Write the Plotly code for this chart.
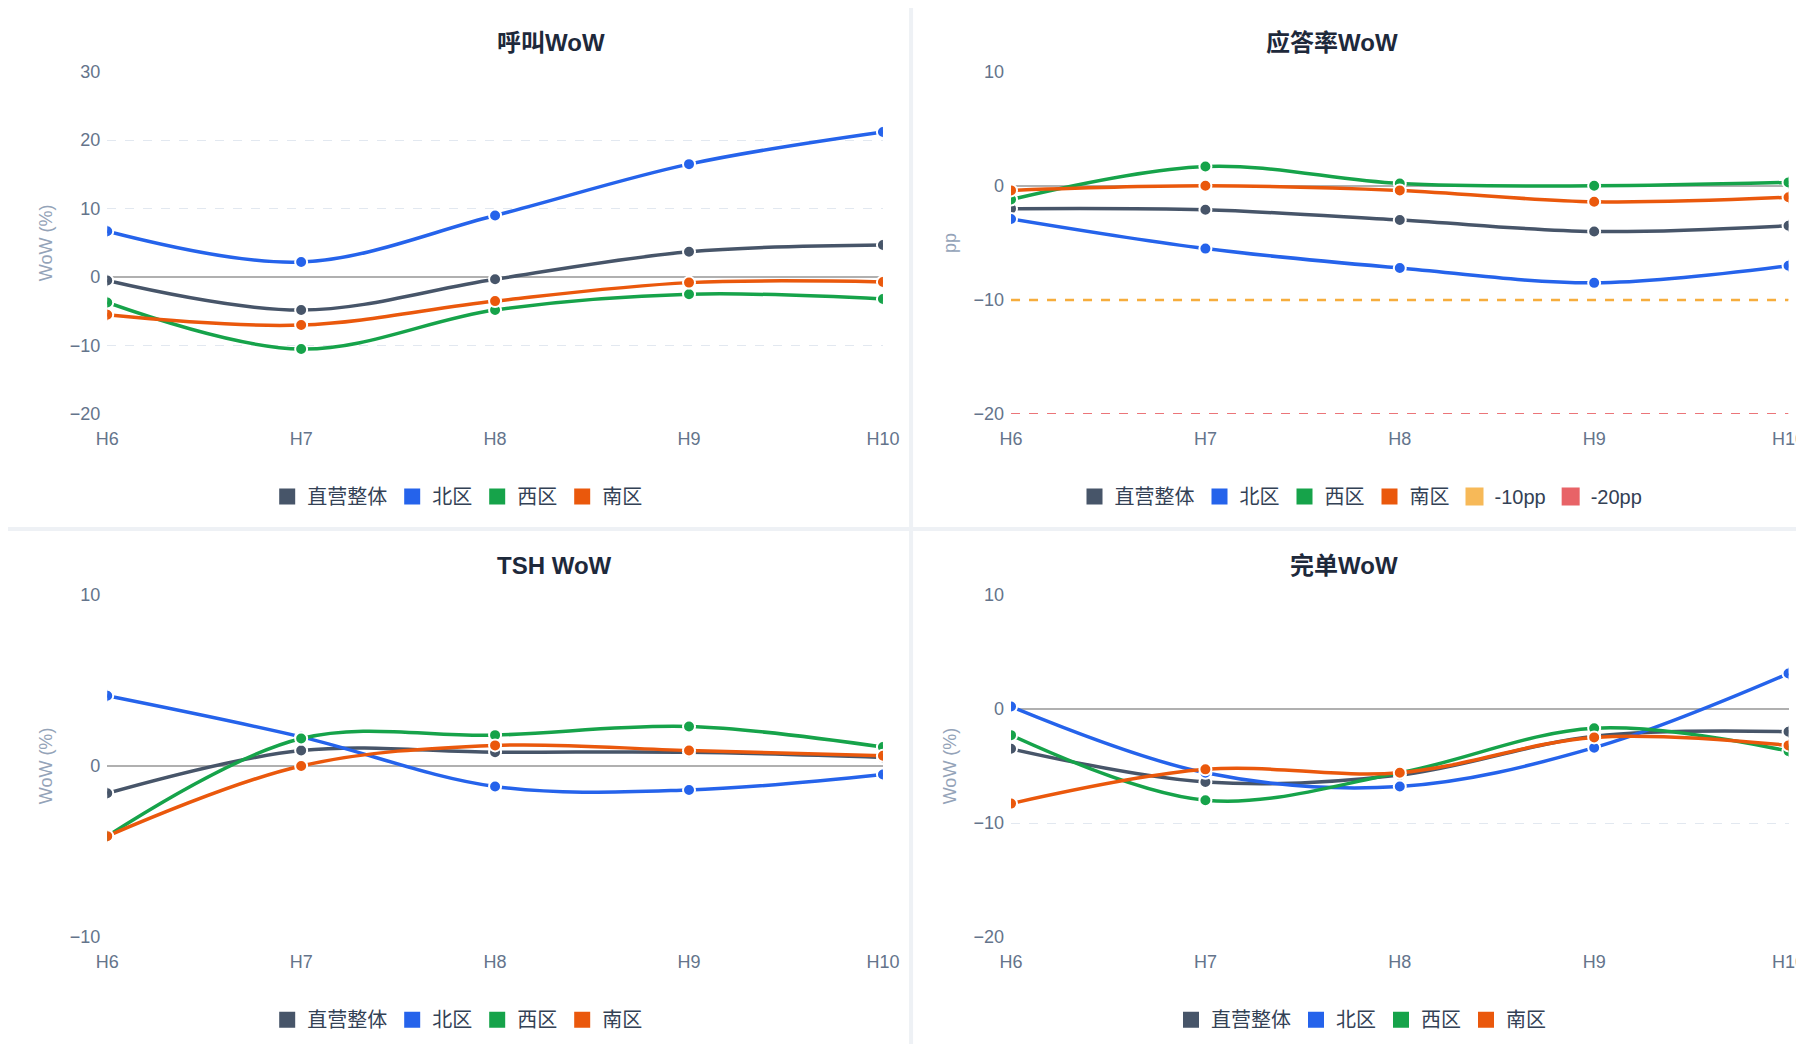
import plotly.graph_objects as go
from plotly.subplots import make_subplots

hours = ['H6', 'H7', 'H8', 'H9', 'H10']
regions = ['直营整体', '北区', '西区', '南区']
colors = {'直营整体': '#475569', '北区': '#2563eb', '西区': '#16a34a', '南区': '#ea580c'}

# 呼叫WoW
call_wow = {
    '直营整体': [-0.5, -4.8, -0.3, 3.7, 4.7],
    '北区': [6.7, 2.2, 9.0, 16.5, 21.2],
    '西区': [-3.7, -10.5, -4.8, -2.5, -3.2],
    '南区': [-5.5, -7.0, -3.5, -0.8, -0.7],
}
# 应答率WoW (pp)
answer_wow = {
    '直营整体': [-2.0, -2.1, -3.0, -4.0, -3.5],
    '北区': [-2.9, -5.5, -7.2, -8.5, -7.0],
    '西区': [-1.2, 1.7, 0.2, 0.0, 0.3],
    '南区': [-0.4, 0.0, -0.4, -1.4, -1.0],
}
# TSH WoW
tsh_wow = {
    '直营整体': [-1.6, 0.9, 0.8, 0.8, 0.5],
    '北区': [4.1, 1.7, -1.2, -1.4, -0.5],
    '西区': [-4.1, 1.6, 1.8, 2.3, 1.1],
    '南区': [-4.1, 0.0, 1.2, 0.9, 0.6],
}
# 完单WoW
order_wow = {
    '直营整体': [-3.5, -6.4, -5.8, -2.4, -2.0],
    '北区': [0.2, -5.6, -6.8, -3.4, 3.1],
    '西区': [-2.3, -8.0, -5.6, -1.7, -3.7],
    '南区': [-8.3, -5.3, -5.6, -2.5, -3.2],
}
ref_lines = [(-10, '-10pp', '#f6ad3c'), (-20, '-20pp', '#e5484d')]

panels = [
    ('呼叫WoW', call_wow, [-20, 30], 'WoW (%)', 1, 1, 'legend'),
    ('应答率WoW', answer_wow, [-20, 10], 'pp', 1, 2, 'legend2'),
    ('TSH WoW', tsh_wow, [-10, 10], 'WoW (%)', 2, 1, 'legend3'),
    ('完单WoW', order_wow, [-20, 10], 'WoW (%)', 2, 2, 'legend4'),
]

fig = make_subplots(rows=2, cols=2)

xdom = {1: [0.055, 0.485], 2: [0.556, 0.987]}
ydom = {1: [0.611, 0.939], 2: [0.110, 0.438]}
leg_pos = {'legend': (0.249, 0.532), 'legend2': (0.75, 0.532),
           'legend3': (0.249, 0.031), 'legend4': (0.75, 0.031)}

for title, data, yr, ytitle, r, c, leg in panels:
    for name in regions:
        fig.add_trace(go.Scatter(
            x=hours, y=data[name], mode='lines+markers', name=name,
            line=dict(color=colors[name], width=3.5, shape='spline'),
            marker=dict(size=12, color=colors[name], line=dict(color='white', width=2)),
            showlegend=False), row=r, col=c)
        fig.add_trace(go.Scatter(
            x=[None], y=[None], mode='markers', name=name,
            marker=dict(symbol='square', size=22, color=colors[name]), legend=leg),
            row=r, col=c)
    if title == '应答率WoW':
        for val, nm, col in ref_lines:
            fig.add_trace(go.Scatter(
                x=hours, y=[val] * len(hours), mode='lines', showlegend=False,
                line=dict(color=col, width=2.5 if val == -10 else 1.5, dash='dash')), row=r, col=c)
            fig.add_trace(go.Scatter(
                x=[None], y=[None], mode='markers', name=nm,
                marker=dict(symbol='square', size=20, color=col, opacity=0.85,
                            line=dict(color=col, width=2)), legend=leg), row=r, col=c)
    fig.update_xaxes(domain=xdom[c], range=[0, 4], showgrid=False, showline=False,
                     ticks='', ticklabelstandoff=12, automargin=False,
                     tickfont=dict(size=18, color='#64748b'), row=r, col=c)
    fig.update_yaxes(domain=ydom[r], range=yr, dtick=10, gridcolor='#e2e8f0', griddash='dash',
                     zeroline=True, zerolinecolor='#b0b0b0', zerolinewidth=1.5,
                     ticklabelstandoff=6, automargin=False,
                     tickfont=dict(size=18, color='#64748b'),
                     title=dict(text=ytitle, font=dict(size=18, color='#94a3b8'), standoff=12),
                     row=r, col=c)
    fig.add_annotation(text='<b>%s</b>' % title, xref='paper', yref='paper',
                       x=sum(xdom[c]) / 2, y=ydom[r][1] + 0.013, showarrow=False,
                       yanchor='bottom', font=dict(size=24, color='#1e293b'))

legends = {}
for leg, (lx, ly) in leg_pos.items():
    legends[leg] = dict(orientation='h', x=lx, y=ly, xanchor='center', yanchor='middle',
                        font=dict(size=20, color='#334155'), bgcolor='rgba(0,0,0,0)',
                        itemwidth=30)

fig.update_layout(
    width=1804, height=1044, plot_bgcolor='white', paper_bgcolor='white',
    font=dict(family='Liberation Sans, Noto Sans CJK SC, sans-serif'),
    margin=dict(l=0, r=0, t=0, b=0, autoexpand=False),
    shapes=[
        dict(type='line', xref='paper', yref='paper', x0=0.5006, x1=0.5006, y0=0, y1=1,
             line=dict(color='#eef1f5', width=4)),
        dict(type='line', xref='paper', yref='paper', x0=0, x1=1, y0=0.501, y1=0.501,
             line=dict(color='#eef1f5', width=4)),
    ],
    **legends,
)

fig.write_html('out.html')
